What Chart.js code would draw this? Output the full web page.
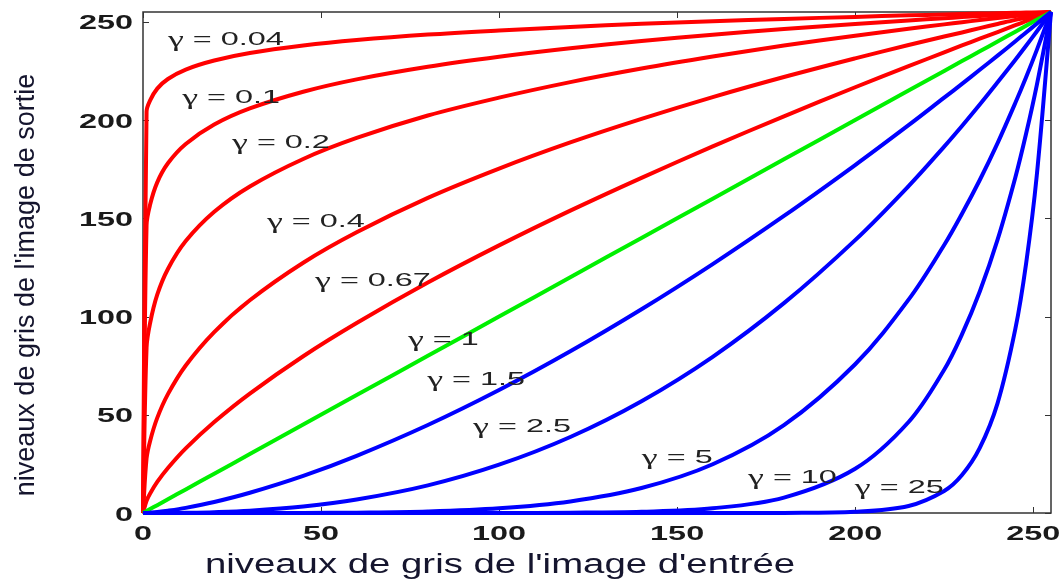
<!DOCTYPE html>
<html>
<head>
<meta charset="utf-8">
<script src="https://cdn.jsdelivr.net/npm/chart.js@4.4.0/dist/chart.umd.min.js"></script>
<style>
  html, body { margin: 0; background: #fff; }
  #wrap { width: 1060px; height: 580px; position: relative; }
</style>
</head>
<body>
<div id="wrap"><canvas id="gamma-chart"></canvas></div>
<script>
// niveaux d'entrée (axe x)
const inputLevels = [0, 1, 2, 4, 7, 12, 20, 30, 45, 60, 80, 100, 120, 140, 160, 180, 200, 215, 225, 230, 235, 240, 245, 248, 251, 255];

// niveaux de sortie lus sur chaque courbe
const outG004 = [0, 204.3, 210.0, 216.0, 220.9, 225.7, 230.3, 234.1, 237.9, 240.7, 243.5, 245.6, 247.4, 249.0, 250.3, 251.5, 252.5, 253.3, 253.7, 254.0, 254.2, 254.4, 254.6, 254.7, 254.8, 255];
const outG01  = [0, 146.5, 157.0, 168.3, 178.0, 187.8, 197.7, 205.9, 214.4, 220.7, 227.1, 232.2, 236.5, 240.2, 243.4, 246.3, 248.9, 250.7, 251.8, 252.4, 252.9, 253.5, 254.0, 254.3, 254.6, 255];
const outG02  = [0, 84.2, 96.7, 111.1, 124.2, 138.4, 153.3, 166.2, 180.2, 190.9, 202.3, 211.4, 219.3, 226.2, 232.3, 237.9, 242.9, 246.5, 248.7, 249.8, 250.9, 251.9, 253.0, 253.6, 254.2, 255];
const outG04  = [0, 27.8, 36.7, 48.4, 60.5, 75.1, 92.1, 108.3, 127.4, 142.9, 160.4, 175.3, 188.6, 200.6, 211.7, 221.9, 231.4, 238.2, 242.5, 244.6, 246.8, 248.9, 251.0, 252.1, 253.4, 255];
const outG067 = [0, 6.2, 9.9, 15.8, 22.9, 32.9, 46.3, 60.8, 79.8, 96.7, 117.3, 136.2, 153.9, 170.6, 186.6, 201.9, 216.7, 227.4, 234.5, 238.0, 241.4, 244.8, 248.3, 250.3, 252.3, 255];
const outG1   = [0, 1, 2, 4, 7, 12, 20, 30, 45, 60, 80, 100, 120, 140, 160, 180, 200, 215, 225, 230, 235, 240, 245, 248, 251, 255];
const outG15  = [0, 0.06, 0.18, 0.5, 1.16, 2.6, 5.6, 10.3, 18.9, 29.1, 44.8, 62.6, 82.3, 103.7, 126.7, 151.2, 177.1, 197.4, 211.4, 218.4, 225.6, 232.8, 240.1, 244.6, 249.0, 255];
const outG25  = [0, 0, 0, 0.01, 0.03, 0.12, 0.44, 1.21, 3.34, 6.85, 14.06, 24.6, 38.7, 56.9, 79.5, 106.8, 138.9, 166.4, 186.5, 197.0, 207.9, 219.2, 230.7, 237.8, 245.1, 255];
const outG5   = [0, 0, 0, 0, 0, 0, 0, 0.01, 0.04, 0.18, 0.77, 2.37, 5.88, 12.7, 24.8, 44.7, 75.7, 108.6, 136.4, 152.3, 169.5, 188.3, 208.8, 221.8, 235.6, 255];
const outG10  = [0, 0, 0, 0, 0, 0, 0, 0, 0, 0, 0, 0.02, 0.14, 0.63, 2.41, 7.84, 22.5, 46.3, 72.9, 90.9, 112.7, 139.1, 170.9, 193.0, 217.7, 255];
const outG25b = [0, 0, 0, 0, 0, 0, 0, 0, 0, 0, 0, 0, 0, 0, 0, 0.04, 0.59, 3.57, 11.2, 19.3, 33.1, 55.9, 93.8, 126.9, 171.7, 255];

const curveLabels = ['γ = 0.04', 'γ = 0.1', 'γ = 0.2', 'γ = 0.4', 'γ = 0.67', 'γ = 1', 'γ = 1.5', 'γ = 2.5', 'γ = 5', 'γ = 10', 'γ = 25'];
// point d'ancrage (gauche, milieu) de chaque étiquette, en niveaux de gris
const labelAtX = [7.0, 11.0, 25.0, 34.8, 48.3, 74.4, 79.8, 92.7, 140.1, 169.9, 199.9];
const labelAtY = [240.7, 211.2, 188.3, 148.1, 118.1, 88.0, 67.7, 43.8, 28.0, 17.8, 12.7];

const tickValues = [0, 50, 100, 150, 200, 250];

const curves = [outG004, outG01, outG02, outG04, outG067, outG1, outG15, outG25, outG5, outG10, outG25b];
const curveColors = ['#ff0000', '#ff0000', '#ff0000', '#ff0000', '#ff0000', '#00f000', '#0000ff', '#0000ff', '#0000ff', '#0000ff', '#0000ff'];

// texte étiré horizontalement comme sur la figure d'origine
function stretchedText(ctx, text, x, y, sx, align, baseline) {
  ctx.save();
  ctx.translate(x, y);
  ctx.scale(sx, 1);
  ctx.textAlign = align;
  ctx.textBaseline = baseline;
  ctx.fillText(text, 0, 0);
  ctx.restore();
}

// le gamma est en police serif (Symbol sous MATLAB), le reste en sans
function gammaLabel(ctx, text, x, y, sx) {
  ctx.save();
  ctx.translate(x, y);
  ctx.scale(sx, 1);
  ctx.textAlign = 'left';
  ctx.textBaseline = 'middle';
  ctx.font = '20px "Liberation Serif", "Times New Roman", serif';
  const g = text.charAt(0);
  ctx.fillText(g, 0, 1);
  const w = ctx.measureText(g).width;
  ctx.font = '18px "Liberation Sans", Arial, sans-serif';
  ctx.fillText(text.slice(1), w, 0);
  ctx.restore();
}

const framePlugin = {
  id: 'matlabFrame',
  beforeDatasetsDraw(chart) {
    const { ctx, chartArea: a, scales: { x, y } } = chart;
    ctx.save();
    ctx.strokeStyle = '#333';
    ctx.lineWidth = 1.5;
    ctx.strokeRect(a.left, a.top, a.right - a.left, a.bottom - a.top);
    ctx.lineWidth = 1;
    ctx.beginPath();
    x.ticks.forEach(t => {
      const px = Math.round(x.getPixelForValue(t.value)) + 0.5;
      ctx.moveTo(px, a.bottom); ctx.lineTo(px, a.bottom - 6);
      ctx.moveTo(px, a.top); ctx.lineTo(px, a.top + 6);
    });
    y.ticks.forEach(t => {
      const py = Math.round(y.getPixelForValue(t.value)) + 0.5;
      ctx.moveTo(a.left, py); ctx.lineTo(a.left + 6, py);
      ctx.moveTo(a.right, py); ctx.lineTo(a.right - 6, py);
    });
    ctx.stroke();
    ctx.restore();
  },
  afterDatasetsDraw(chart) {
    const { ctx, chartArea: a, scales: { x, y } } = chart;
    ctx.save();
    // valeurs des graduations
    ctx.fillStyle = '#1a1a1a';
    ctx.font = 'bold 20px "Liberation Sans", Arial, sans-serif';
    x.ticks.forEach(t => {
      stretchedText(ctx, String(t.value), x.getPixelForValue(t.value), a.bottom + 21, 1.62, 'center', 'middle');
    });
    y.ticks.forEach(t => {
      stretchedText(ctx, String(t.value), a.left - 10, y.getPixelForValue(t.value) + 2, 1.62, 'right', 'middle');
    });
    // étiquettes des courbes
    ctx.fillStyle = '#222';
    curveLabels.forEach((txt, i) => {
      gammaLabel(ctx, txt, x.getPixelForValue(labelAtX[i]), y.getPixelForValue(labelAtY[i]), 1.8);
    });
    // titres des axes
    ctx.fillStyle = '#15152e';
    ctx.font = '27px "Liberation Sans", Arial, sans-serif';
    stretchedText(ctx, "niveaux de gris de l'image d'entrée", 500, 573, 1.42, 'center', 'alphabetic');
    ctx.save();
    ctx.translate(34, 285);
    ctx.rotate(-Math.PI / 2);
    ctx.textAlign = 'center';
    ctx.textBaseline = 'alphabetic';
    ctx.fillText("niveaux de gris de l'image de sortie", 0, 0);
    ctx.restore();
    ctx.restore();
  }
};

new Chart(document.getElementById('gamma-chart'), {
  type: 'line',
  data: {
    datasets: curves.map((vals, i) => ({
      label: curveLabels[i],
      data: inputLevels.map((v, j) => ({ x: v, y: vals[j] })),
      borderColor: curveColors[i],
      borderWidth: 4,
      pointRadius: 0,
      fill: false,
      tension: 0.35,
      clip: 4,
      order: curveColors[i] === '#0000ff' ? 1 : (curveColors[i] === '#ff0000' ? 3 : 2)
    }))
  },
  options: {
    responsive: true,
    maintainAspectRatio: false,
    animation: false,
    layout: { padding: { top: 12, right: 9, left: 0, bottom: 0 } },
    plugins: {
      legend: { display: false },
      tooltip: { enabled: false }
    },
    scales: {
      x: {
        type: 'linear', min: 0, max: 255,
        afterBuildTicks: s => { s.ticks = tickValues.map(v => ({ value: v })); },
        afterFit: s => { s.height = 67; },
        ticks: { display: false },
        grid: { display: false },
        border: { display: false }
      },
      y: {
        type: 'linear', min: 0, max: 255,
        afterBuildTicks: s => { s.ticks = tickValues.map(v => ({ value: v })); },
        afterFit: s => { s.width = 143; },
        ticks: { display: false },
        grid: { display: false },
        border: { display: false }
      }
    }
  },
  plugins: [framePlugin]
});
</script>
</body>
</html>
